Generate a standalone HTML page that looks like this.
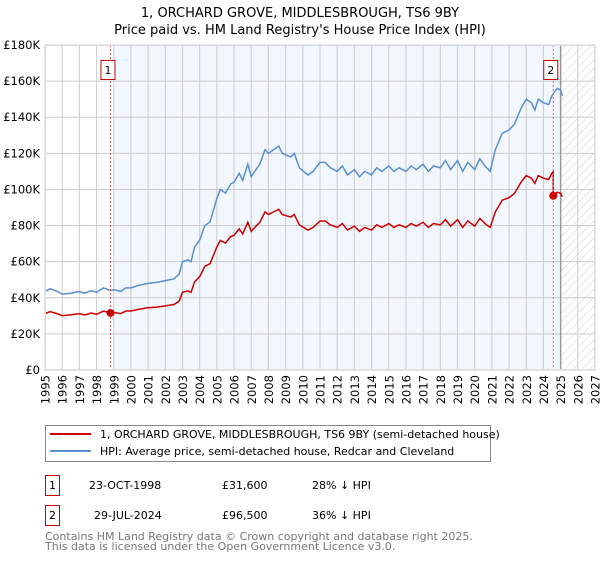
<!DOCTYPE html>
<html><head><meta charset="utf-8"><style>
body{margin:0;width:600px;height:560px;background:#fff;overflow:hidden;font-family:"DejaVu Sans","Liberation Sans",sans-serif}
svg text{font-family:"DejaVu Sans","Liberation Sans",sans-serif}
</style></head><body>
<svg id="chart" width="600" height="560" xmlns="http://www.w3.org/2000/svg">
<defs><pattern id="hatch" width="6" height="6" patternUnits="userSpaceOnUse" patternTransform="rotate(45)"><line x1="0" y1="0" x2="0" y2="6" stroke="#ccc" stroke-width="1"/></pattern></defs>
<text x="300" y="17" text-anchor="middle" font-size="13">1, ORCHARD GROVE, MIDDLESBROUGH, TS6 9BY</text>
<text x="300" y="34" text-anchor="middle" font-size="13">Price paid vs. HM Land Registry's House Price Index (HPI)</text>
<g id="plot"></g>
<g>
<rect x="45.5" y="425.5" width="445" height="36" fill="#fff" stroke="#888"/>
<line x1="50" y1="434" x2="91" y2="434" stroke="#cc0000" stroke-width="2"/>
<text x="100" y="438" font-size="11">1, ORCHARD GROVE, MIDDLESBROUGH, TS6 9BY (semi-detached house)</text>
<line x1="50" y1="451" x2="91" y2="451" stroke="#5b8fd0" stroke-width="2"/>
<text x="100" y="455" font-size="11">HPI: Average price, semi-detached house, Redcar and Cleveland</text>
</g>
<g font-size="11">
<rect x="45.5" y="475.5" width="14" height="20" fill="#fff" stroke="#cc0000"/>
<text x="52.5" y="489" text-anchor="middle">1</text>
<text x="89" y="489">23-OCT-1998</text><text x="222" y="489">£31,600</text><text x="312" y="489">28% ↓ HPI</text>
</g>
<g font-size="11">
<rect x="45.5" y="505.5" width="14" height="20" fill="#fff" stroke="#cc0000"/>
<text x="52.5" y="519" text-anchor="middle">2</text>
<text x="94" y="519">29-JUL-2024</text><text x="222" y="519">£96,500</text><text x="312" y="519">36% ↓ HPI</text>
</g>
<text x="45" y="540" font-size="11" fill="#777">Contains HM Land Registry data © Crown copyright and database right 2025.</text>
<text x="45" y="550" font-size="11" fill="#777">This data is licensed under the Open Government Licence v3.0.</text>
</svg>
<script>
const hpiYears=[1995.0,1995.3,1995.7,1996.0,1996.5,1997.0,1997.3,1997.7,1998.0,1998.4,1998.8,1999.0,1999.4,1999.7,2000.0,2000.5,2001.0,2001.5,2002.0,2002.5,2002.8,2003.0,2003.3,2003.5,2003.7,2004.0,2004.3,2004.6,2005.0,2005.2,2005.5,2005.8,2006.0,2006.3,2006.5,2006.8,2007.0,2007.2,2007.5,2007.8,2008.0,2008.3,2008.6,2008.8,2009.3,2009.5,2009.8,2010.3,2010.6,2011.0,2011.3,2011.6,2012.0,2012.3,2012.6,2013.0,2013.3,2013.6,2014.0,2014.3,2014.6,2015.0,2015.3,2015.6,2016.0,2016.3,2016.6,2017.0,2017.3,2017.6,2018.0,2018.3,2018.6,2019.0,2019.3,2019.6,2020.0,2020.3,2020.6,2020.9,2021.2,2021.6,2022.0,2022.3,2022.7,2023.0,2023.3,2023.5,2023.7,2024.0,2024.3,2024.5,2024.8,2025.0,2025.1];
const hpiValues=[43.5,45,43.5,42,42.5,43.5,42.5,44,43,45.5,44,44.5,43.5,45.5,45.5,47,48,48.5,49.5,50.5,53,60,61,60,68,72,80,82,95,100,98,103,104,109,105,114,107,110,114,122,120,122,124,120,118,120,112,108,110,115,115,112,110,113,108,111,107,110,108,112,110,113,110,112,110,113,111,114,110,113,112,116,111,116,110,115,111,117,113,110,122,131,133,136,145,150,148,144,150,148,147,152,156,155,152];
const saleYears=[1998.81,2024.57];
const salePrices=[31.6,96.5];
const saleLabels=["1","2"];
const xTicks=[1995,1996,1997,1998,1999,2000,2001,2002,2003,2004,2005,2006,2007,2008,2009,2010,2011,2012,2013,2014,2015,2016,2017,2018,2019,2020,2021,2022,2023,2024,2025,2026,2027];
const yTicks=[0,20,40,60,80,100,120,140,160,180];
const yTickLabels=["£0","£20K","£40K","£60K","£80K","£100K","£120K","£140K","£160K","£180K"];

const L=45,R=595,T=45,B=370,X0=1995,X1=2027,YMAX=180;
const xs=v=>L+(v-X0)/(X1-X0)*(R-L);
const ys=v=>B-v/YMAX*(B-T);
const NS="http://www.w3.org/2000/svg";
const g=document.getElementById('plot');
function mk(tag,attrs){const e=document.createElementNS(NS,tag);for(const k in attrs)e.setAttribute(k,attrs[k]);g.appendChild(e);return e;}
function hpiAt(t){for(let i=0;i<hpiYears.length-1;i++){if(t>=hpiYears[i]&&t<=hpiYears[i+1]){const f=(t-hpiYears[i])/(hpiYears[i+1]-hpiYears[i]);return hpiValues[i]+f*(hpiValues[i+1]-hpiValues[i]);}}return t<hpiYears[0]?hpiValues[0]:hpiValues[hpiValues.length-1];}

let bg=mk('rect',{x:L,y:T,width:R-L,height:B-T,fill:'#fff'});


let sh=mk('rect',{x:xs(saleYears[0])+4,y:T,width:xs(2025)-xs(saleYears[0])-4,height:B-T,fill:'#f2f6fd'});


let ht=mk('rect',{x:xs(2025),y:T,width:R-xs(2025),height:B-T,fill:'url(#hatch)'});


xTicks.forEach(t=>{
 let l=mk('line',{x1:xs(t),x2:xs(t),y1:T,y2:B,stroke:'#ccc','stroke-width':1});
 
 
 let x=xs(t)+4.5,y=B+5;
 let tx=mk('text',{x:x,y:y,'text-anchor':'end','font-size':11.5,transform:'rotate(-90 '+x+' '+y+')'});
 tx.textContent=t;
 
 
});
yTicks.forEach((v,i)=>{
 let l=mk('line',{x1:L,x2:R,y1:ys(v),y2:ys(v),stroke:'#ccc','stroke-width':1});
 
 
 let tx=mk('text',{x:L-5,y:ys(v)+4,'text-anchor':'end','font-size':11.5});
 tx.textContent=yTickLabels[i];
 
 
});
let fl=mk('line',{x1:xs(2025),x2:xs(2025),y1:T,y2:B,stroke:'#999','stroke-width':1.5});


let hp=mk('polyline',{points:hpiYears.map((t,i)=>xs(t)+','+ys(hpiValues[i])).join(' '),fill:'none',stroke:'#5b8fd0','stroke-width':1.5});


const f1=salePrices[0]/hpiAt(saleYears[0]), f2=salePrices[1]/hpiAt(saleYears[1]);
let pts=[];
hpiYears.forEach((t,i)=>{ if(t<saleYears[1]) pts.push([t,hpiValues[i]*f1]); });
pts.push([saleYears[1],hpiAt(saleYears[1])*f1]);
pts.push([saleYears[1],salePrices[1]]);
hpiYears.forEach((t,i)=>{ if(t>saleYears[1]) pts.push([t,hpiValues[i]*f2]); });
let pl=mk('polyline',{points:pts.map(p=>xs(p[0])+','+ys(p[1])).join(' '),fill:'none',stroke:'#cc0000','stroke-width':1.5});


saleYears.forEach((t,i)=>{
 let vl=mk('line',{x1:xs(t),x2:xs(t),y1:T,y2:B,stroke:'#e06666','stroke-width':1,'stroke-dasharray':'2,2'});
 
 
 let c=mk('circle',{cx:xs(t),cy:ys(salePrices[i]),r:4,fill:'#cc0000'});
 
 
 let b=mk('rect',{x:xs(t)-9.5,y:60.5,width:14,height:19,fill:'#fff',stroke:'#cc0000'});
 
 
 let tx=mk('text',{x:xs(t)-2.5,y:74,'text-anchor':'middle','font-size':11});
 tx.textContent=saleLabels[i];
 
 
});
let fr=mk('rect',{x:L+0.5,y:T+0.5,width:R-L-1,height:B-T-1,fill:'none',stroke:'#ddd'});


</script>
</body></html>
